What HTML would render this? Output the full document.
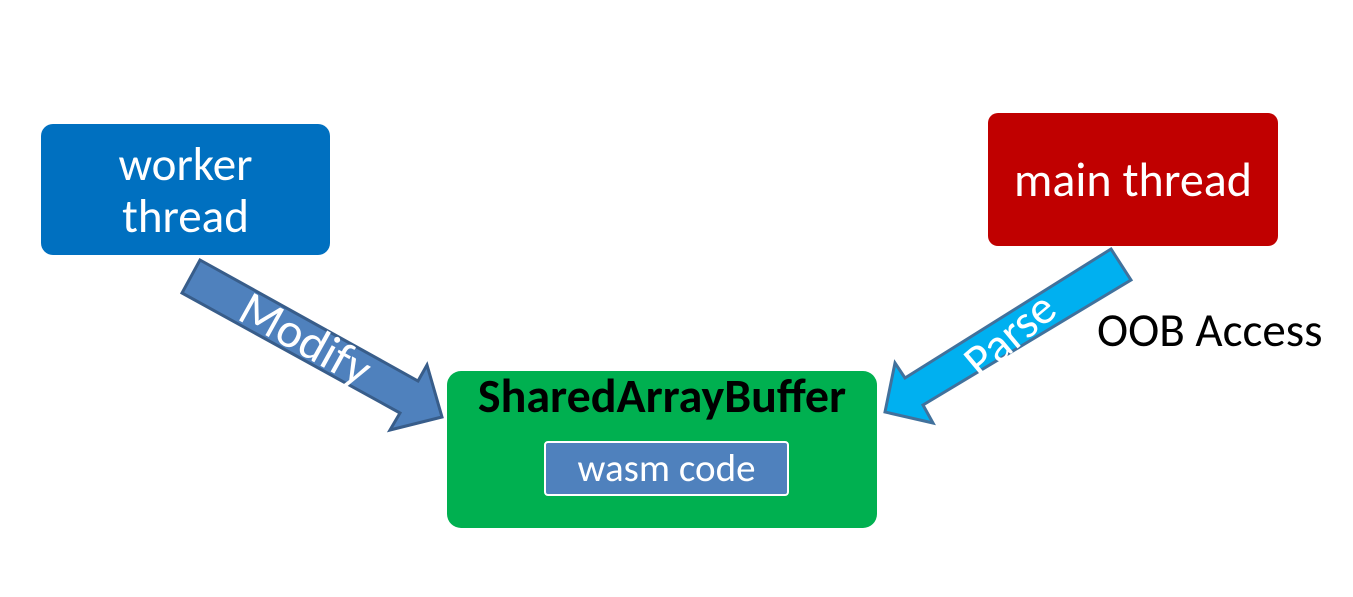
<!DOCTYPE html>
<html><head><style>
body{margin:0;width:1353px;height:597px;background:#fff;position:relative;overflow:hidden;font-family:Calibri,"Liberation Sans",sans-serif}
.b{position:absolute;display:flex;align-items:center;justify-content:center;text-align:center;color:#fff}
</style></head><body>
<div class="b" style="left:41px;top:124px;width:289px;height:131px;background:#0070c0;border-radius:12px;font-size:47px;line-height:52px">worker<br>thread</div>
<div class="b" style="left:988px;top:113px;width:290px;height:133px;background:#c00000;border-radius:10px;font-size:48px;padding-top:0">main thread</div>
<div style="position:absolute;left:447px;top:371px;width:430px;height:157px;background:#00b050;border-radius:14px"></div>
<div style="position:absolute;left:447px;top:368px;width:430px;text-align:center;font-size:48px;line-height:56px;font-weight:bold;color:#000">SharedArrayBuffer</div>
<div class="b" style="left:544px;top:441px;width:241px;height:51px;background:#4f81bd;border:2px solid #fff;border-radius:4px;font-size:39px">wasm code</div>
<div style="position:absolute;left:1097px;top:302px;font-size:47px;line-height:56px;color:#000">OOB Access</div>
<svg width="1353" height="597" style="position:absolute;left:0;top:0">
<polygon points="200,260 418,381 427,365 442,417 390,430 400,413 182,293" fill="#4f81bd" stroke="#385d8a" stroke-width="3"/>
<polygon points="1111,249 1131,280 923,405 933,423 885,412 895,363 905,378" fill="#00b0f0" stroke="#41719c" stroke-width="3"/>
<text x="305" y="355" transform="rotate(29 305 340)" text-anchor="middle" fill="#fff" font-size="49" font-family="Calibri,Liberation Sans,sans-serif">Modify</text>
<text x="1010" y="350" transform="rotate(-40 1010 335)" text-anchor="middle" fill="#fff" font-size="47" font-family="Calibri,Liberation Sans,sans-serif">Parse</text>
</svg>
</body></html>
